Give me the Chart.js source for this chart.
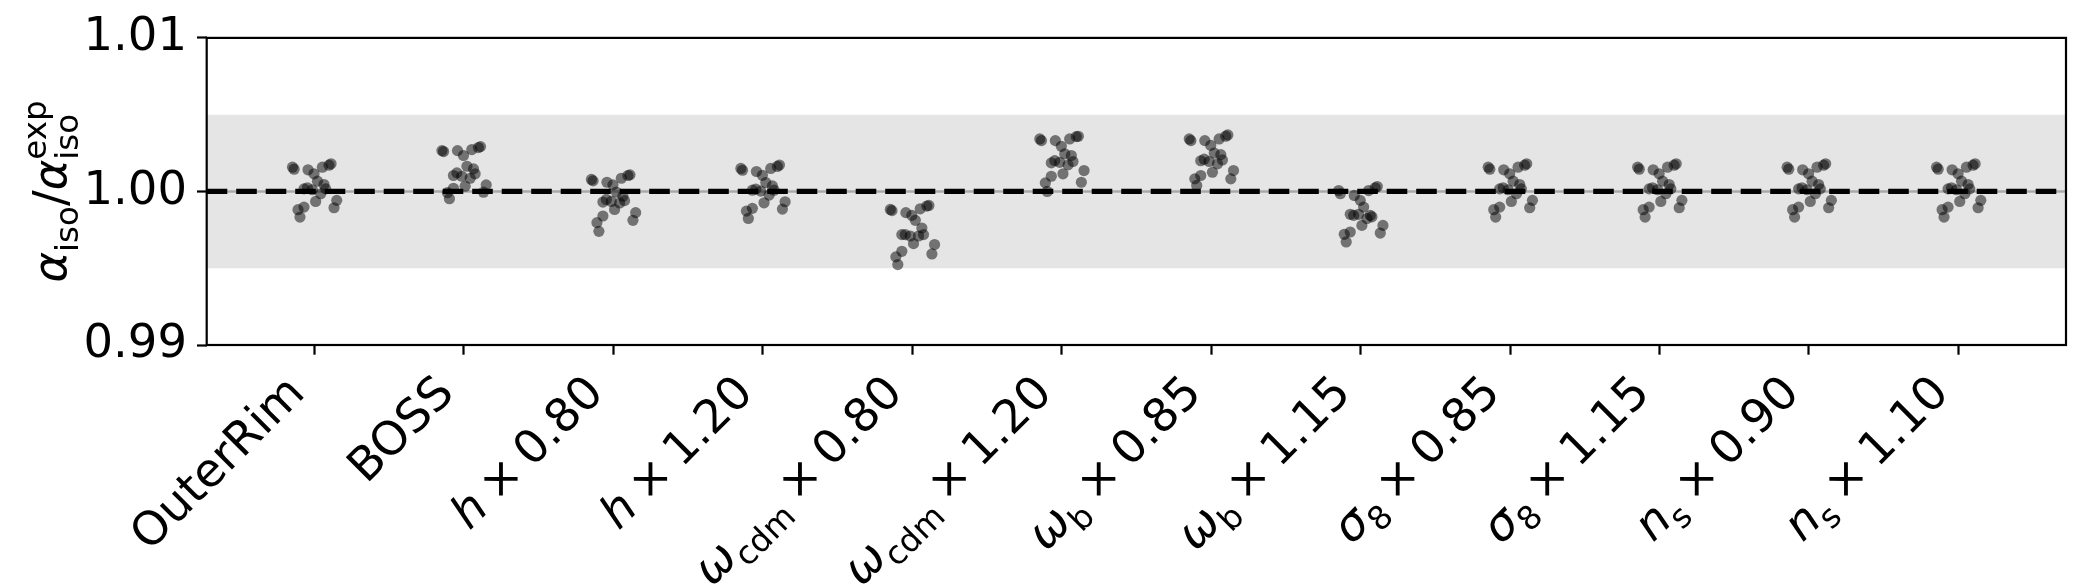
<!DOCTYPE html>
<html>
<head>
<meta charset="utf-8">
<script src="https://cdn.jsdelivr.net/npm/chart.js@4.4.0/dist/chart.umd.min.js"></script>
<style>
  html, body { margin: 0; padding: 0; background: #fff; }
  #wrap { width: 2090px; height: 584px; position: relative; }
</style>
</head>
<body>
<div id="wrap"><canvas id="chart"></canvas></div>
<script>
// --- DATA ---
// *x* = italic, _{..} = subscript, ^{..} = superscript
const categories = [
  'OuterRim', 'BOSS',
  '*h* × 0.80', '*h* × 1.20',
  '*ω*_{cdm} × 0.80', '*ω*_{cdm} × 1.20',
  '*ω*_{b} × 0.85', '*ω*_{b} × 1.15',
  '*σ*_{8} × 0.85', '*σ*_{8} × 1.15',
  '*n*_{s} × 0.90', '*n*_{s} × 1.10'
];
const yLabel = '*α*_{iso}/*α*_{iso}^{exp}';
const yTicks = [0.99, 1.00, 1.01];
const xMin = -0.72, xMax = 11.72;
const refValue = 1.0;
const bandLow = 0.995, bandHigh = 1.005;

// horizontal scatter offset of each realisation (same for every case)
const jitter = [-0.146, -0.135, -0.042, -0.002, 0.054, 0.098, 0.112, 0.021, 0.065, -0.069,
                -0.046, -0.013, 0.076, 0.043, 0.009, -0.069, -0.109, -0.096, 0.150, 0.132];

const outerRim = [1.00158, 1.00145, 1.00141, 1.00115, 1.00158, 1.00171, 1.00180, 1.00067, 1.00045, 1.00017,
                  1.00024, 1.00011, 1.00017, 0.99985, 0.99935, 0.99898, 0.99881, 0.99833, 0.99942, 0.99894];
const boss     = [1.00266, 1.00260, 1.00266, 1.00234, 1.00273, 1.00286, 1.00292, 1.00164, 1.00147, 1.00104,
                  1.00121, 1.00099, 1.00115, 1.00086, 1.00034, 1.00021, 0.99992, 0.99953, 1.00043, 0.99995];
const hLow     = [1.00078, 1.00069, 1.00060, 1.00043, 1.00086, 1.00104, 1.00108, 0.99995, 0.99969, 0.99931,
                  0.99948, 0.99935, 0.99940, 0.99925, 0.99883, 0.99840, 0.99797, 0.99740, 0.99862, 0.99812];
const hHigh    = [1.00150, 1.00138, 1.00130, 1.00105, 1.00150, 1.00163, 1.00172, 1.00058, 1.00036, 1.00008,
                  1.00015, 1.00002, 1.00008, 0.99976, 0.99926, 0.99890, 0.99872, 0.99824, 0.99933, 0.99885];
const cdmLow   = [0.99883, 0.99875, 0.99862, 0.99844, 0.99887, 0.99905, 0.99909, 0.99812, 0.99762, 0.99719,
                  0.99719, 0.99710, 0.99719, 0.99710, 0.99660, 0.99610, 0.99574, 0.99524, 0.99654, 0.99593];
const cdmHigh  = [1.00342, 1.00331, 1.00331, 1.00294, 1.00342, 1.00357, 1.00359, 1.00245, 1.00234, 1.00186,
                  1.00201, 1.00190, 1.00195, 1.00173, 1.00115, 1.00099, 1.00056, 1.00000, 1.00136, 1.00060];
const bLow     = [1.00342, 1.00331, 1.00331, 1.00300, 1.00342, 1.00360, 1.00368, 1.00250, 1.00240, 1.00200,
                  1.00210, 1.00195, 1.00205, 1.00180, 1.00125, 1.00104, 1.00082, 1.00039, 1.00136, 1.00082];
const bHigh    = [1.00006, 0.99985, 0.99974, 0.99942, 1.00006, 1.00024, 1.00032, 0.99898, 0.99844, 0.99851,
                  0.99844, 0.99851, 0.99835, 0.99823, 0.99779, 0.99736, 0.99721, 0.99671, 0.99779, 0.99729];
const s8Low    = [1.00158, 1.00145, 1.00141, 1.00115, 1.00158, 1.00171, 1.00180, 1.00067, 1.00045, 1.00017,
                  1.00024, 1.00011, 1.00017, 0.99985, 0.99935, 0.99898, 0.99881, 0.99833, 0.99942, 0.99894];
const s8High   = [1.00158, 1.00145, 1.00141, 1.00115, 1.00158, 1.00171, 1.00180, 1.00067, 1.00045, 1.00017,
                  1.00024, 1.00011, 1.00017, 0.99985, 0.99935, 0.99898, 0.99881, 0.99833, 0.99942, 0.99894];
const nsLow    = [1.00158, 1.00145, 1.00141, 1.00115, 1.00158, 1.00171, 1.00180, 1.00067, 1.00045, 1.00017,
                  1.00024, 1.00011, 1.00017, 0.99985, 0.99935, 0.99898, 0.99881, 0.99833, 0.99942, 0.99894];
const nsHigh   = [1.00158, 1.00145, 1.00141, 1.00115, 1.00158, 1.00171, 1.00180, 1.00067, 1.00045, 1.00017,
                  1.00024, 1.00011, 1.00017, 0.99985, 0.99935, 0.99898, 0.99881, 0.99833, 0.99942, 0.99894];

const groupValues = [outerRim, boss, hLow, hHigh, cdmLow, cdmHigh, bLow, bHigh, s8Low, s8High, nsLow, nsHigh];

// --- STYLE ---
const FONT = '"DejaVu Sans"';
const FS = 46.5;
const TICK_LEN = 9.7;
const LINE_W = 2.2;

// --- tiny rich-text helpers (italic / sub / sup) ---
function parseRich(str) {
  const tokens = [];
  let italic = false;
  let i = 0;
  while (i < str.length) {
    const ch = str[i];
    if (ch === '*') { italic = !italic; i++; continue; }
    if ((ch === '_' || ch === '^') && str[i + 1] === '{') {
      const end = str.indexOf('}', i);
      const prev = tokens[tokens.length - 1];
      tokens.push({ text: str.slice(i + 2, end), italic: false, script: ch === '_' ? -1 : 1,
                    stack: !!(prev && prev.script) });
      i = end + 1;
      continue;
    }
    if (ch === ' ') { tokens.push({ space: true }); i++; continue; }
    const last = tokens[tokens.length - 1];
    if (last && !last.space && !last.script && last.italic === italic) last.text += ch;
    else tokens.push({ text: ch, italic, script: 0 });
    i++;
  }
  return tokens;
}

function layoutRich(ctx, str, size) {
  const tokens = parseRich(str);
  let x = 0, prevStart = 0;
  const placed = [];
  tokens.forEach(t => {
    if (t.space) { x += size * 0.22; return; }
    const fs = t.script ? size * 0.7 : size;
    const font = `${t.italic ? 'italic ' : ''}${fs}px ${FONT}`;
    ctx.font = font;
    const w = ctx.measureText(t.text).width;
    let x0;
    if (t.stack) { x0 = prevStart; x = Math.max(x, prevStart + w); }
    else { x0 = x; x += w; }
    const dy = t.script === -1 ? size * 0.25 : t.script === 1 ? -size * 0.42 : 0;
    placed.push({ text: t.text, font, x: x0, dy });
    prevStart = x0;
  });
  return { placed, width: x };
}

function drawRich(ctx, lay, x0, baseY) {
  ctx.textAlign = 'left';
  ctx.textBaseline = 'alphabetic';
  lay.placed.forEach(p => {
    ctx.font = p.font;
    ctx.fillText(p.text, x0 + p.x, baseY + p.dy);
  });
}

const labelsPlugin = {
  id: 'richLabels',
  afterDraw(chart) {
    const ctx = chart.ctx;
    const area = chart.chartArea;
    const xs = chart.scales.x;
    ctx.save();
    ctx.fillStyle = '#000';

    // frame
    ctx.lineWidth = LINE_W;
    ctx.strokeStyle = '#000';
    ctx.strokeRect(area.left, area.top, area.right - area.left, area.bottom - area.top);

    // rotated x labels, right/top aligned to the tick
    const H = FS * 1.164;
    const topY = area.bottom + TICK_LEN + 9.7;
    categories.forEach((c, i) => {
      const lay = layoutRich(ctx, c, FS);
      const px = xs.getPixelForValue(i);
      ctx.save();
      ctx.translate(px - 0.354 * H, topY + 0.354 * H);
      ctx.rotate(-Math.PI / 4);
      drawRich(ctx, lay, -lay.width, 0.346 * FS);
      ctx.restore();
    });

    // y label
    const lay = layoutRich(ctx, yLabel, FS);
    ctx.save();
    ctx.translate(66, (area.top + area.bottom) / 2);
    ctx.rotate(-Math.PI / 2);
    drawRich(ctx, lay, -lay.width / 2, 0);
    ctx.restore();

    ctx.restore();
  }
};

// --- DATASETS ---
const points = [];
groupValues.forEach((vals, i) => {
  vals.forEach((v, j) => points.push({ x: i + jitter[j], y: v }));
});

const ctx = document.getElementById('chart').getContext('2d');
new Chart(ctx, {
  type: 'scatter',
  data: {
    datasets: [
      { // dashed reference line (top)
        data: [{ x: xMin, y: refValue }, { x: xMax, y: refValue }],
        showLine: true, borderColor: '#000', borderWidth: 5.3, borderDash: [20.6, 8.9],
        pointRadius: 0, order: 0
      },
      { // realisations
        data: points,
        pointRadius: 5.6, pointBorderWidth: 0, pointHoverRadius: 5.6,
        backgroundColor: 'rgba(0,0,0,0.5)', borderColor: 'rgba(0,0,0,0)', order: 1
      },
      { // thin grey line under the dashes
        data: [{ x: xMin, y: refValue }, { x: xMax, y: refValue }],
        showLine: true, borderColor: '#a8a8a8', borderWidth: 2.5, pointRadius: 0, order: 2
      },
      { // +/- 0.5% band
        data: [{ x: xMin, y: bandHigh }, { x: xMax, y: bandHigh }],
        showLine: true, borderWidth: 0, borderColor: 'rgba(0,0,0,0)', pointRadius: 0,
        fill: { value: bandLow }, backgroundColor: '#e5e5e5', order: 3
      }
    ]
  },
  options: {
    responsive: true,
    maintainAspectRatio: false,
    animation: false,
    devicePixelRatio: 1,
    layout: { padding: { top: 37, right: 24, left: 0, bottom: 0 } },
    plugins: { legend: { display: false }, tooltip: { enabled: false } },
    scales: {
      x: {
        type: 'linear', min: xMin, max: xMax,
        afterBuildTicks: s => { s.ticks = categories.map((_, i) => ({ value: i })); },
        afterFit: s => { s.height = 239; },
        ticks: { display: false },
        border: { display: false },
        grid: { drawOnChartArea: false, drawTicks: true, tickLength: TICK_LEN,
                tickColor: '#000', tickWidth: LINE_W }
      },
      y: {
        type: 'linear', min: yTicks[0], max: yTicks[yTicks.length - 1],
        afterBuildTicks: s => { s.ticks = yTicks.map(v => ({ value: v })); },
        afterFit: s => { s.width = 206.7; },
        ticks: { color: '#000', font: { family: 'DejaVu Sans', size: FS }, padding: 10,
                 callback: v => v.toFixed(2) },
        border: { display: false },
        grid: { drawOnChartArea: false, drawTicks: true, tickLength: TICK_LEN,
                tickColor: '#000', tickWidth: LINE_W }
      }
    }
  },
  plugins: [labelsPlugin]
});
</script>
</body>
</html>
